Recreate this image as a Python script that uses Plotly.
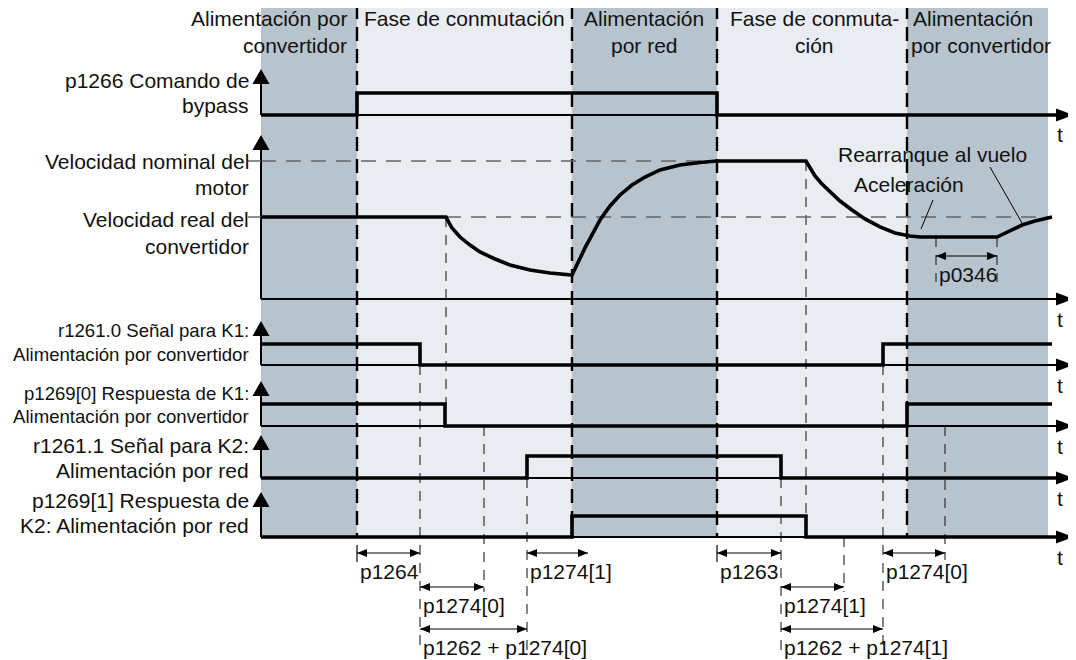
import plotly.graph_objects as go

# The page body has an 8px margin: the figure is drawn 8px smaller and shifted.
OFF = 8
REF_W, REF_H = 1076, 660
W, H = REF_W - OFF, REF_H - OFF
X0 = 261          # reference pixel of time origin (1 time unit = 1 px)
FONT = "Liberation Sans, Arial, Helvetica, sans-serif"
TXT = "#111111"
DARK = "#b7c4ce"
LIGHT = "#e9edf1"

# ---------------- data ----------------
phase_bounds = [0, 96, 311, 456, 646, 787]          # time units
phase_kind = ["dark", "light", "dark", "light", "dark"]

p1266_t = [0, 96, 456, 797]
p1266_v = [0, 1, 0, 0]
r1261_0_t = [0, 159, 622, 791]
r1261_0_v = [1, 0, 1, 1]
p1269_0_t = [0, 184, 646, 791]
p1269_0_v = [1, 0, 1, 1]
r1261_1_t = [0, 266, 520, 797]
r1261_1_v = [0, 1, 0, 0]
p1269_1_t = [0, 311, 545, 797]
p1269_1_v = [0, 1, 0, 0]

speed_t = [0, 185, 191, 199, 209, 219, 234, 249, 269, 289,
           311, 317, 324, 331, 339, 349, 359, 371, 384, 399,
           419, 439, 456, 545, 549, 554, 561, 569, 579, 591,
           604, 619, 634, 649, 659, 736, 749, 761, 774, 791]
speed_v = [59.4, 59.4, 51.4, 44.9, 39.1, 34.1, 29.0, 24.6, 21.0, 18.8,
           17.4, 26.8, 37.0, 46.4, 57.2, 67.4, 75.4, 82.6, 88.4, 93.5,
           97.1, 98.9, 100, 100, 94.9, 89.1, 83.3, 77.5, 71.0, 64.5,
           58.0, 52.2, 47.8, 45.7, 44.9, 44.9, 49.3, 53.6, 56.5, 59.4]
speed_nominal = 100.0
speed_actual = 59.4
nominal_ref_t = [0, 545]
actual_ref_t = [185, 791]

# time markers (time, top px, bottom px)
markers = [(159, 365, 652), (185, 217, 404), (223, 426, 592), (266, 478, 652),
           (520, 478, 652), (545, 161, 516), (583, 537, 592), (622, 365, 652),
           (684, 426, 560), (675, 237, 282), (736, 237, 282)]

# dimension arrows (t0, t1, y px, label)
dims = [(96, 159, 553, "p1264"), (266, 327, 553, "p1274[1]"),
        (456, 520, 553, "p1263"), (622, 684, 553, "p1274[0]"),
        (159, 223, 587, "p1274[0]"), (520, 583, 587, "p1274[1]"),
        (159, 266, 629, "p1262 + p1274[0]"), (520, 622, 629, "p1262 + p1274[1]"),
        (675, 736, 256, "p0346")]

# ---------------- layout helpers (reference pixels -> paper) ----------------
def fx(px):
    return (px - OFF) / W

def fy(py):
    return 1 - (py - OFF) / H

# rows: (axis name, baseline px, px per unit, arrow tip px)
rows = [
    ("y", 115, 22, 69),
    ("y2", 299, 1.38, 135),
    ("y3", 365, 21, 321),
    ("y4", 426, 22, 381),
    ("y5", 478, 22, 435),
    ("y6", 537, 21, 492),
]

fig = go.Figure()
layout_axes = {}
for name, base, s, tip in rows:
    key = "yaxis" if name == "y" else "yaxis" + name[1:]
    b = base - OFF
    ax = dict(range=[(b - H) / s, b / s], domain=[0, 1], visible=False, fixedrange=True)
    if name != "y":
        ax["overlaying"] = "y"
    layout_axes[key] = ax

shapes = []
annotations = []

# backgrounds
for i, kind in enumerate(phase_kind):
    shapes.append(dict(type="rect", xref="x", yref="paper",
                       x0=phase_bounds[i], x1=phase_bounds[i + 1],
                       y0=fy(536), y1=fy(5), line=dict(width=0),
                       fillcolor=DARK if kind == "dark" else LIGHT, layer="below"))

# phase boundary dashed lines
for b in phase_bounds[1:5]:
    shapes.append(dict(type="line", xref="x", yref="paper", x0=b, x1=b,
                       y0=fy(5), y1=fy(537),
                       line=dict(color="#000", width=2.4, dash="14px,8px"), layer="below"))

# time marker thin dashed lines
for t, y0, y1 in markers:
    shapes.append(dict(type="line", xref="x", yref="paper", x0=t, x1=t,
                       y0=fy(y0), y1=fy(y1),
                       line=dict(color="#222", width=1.1, dash="10px,8px"), layer="below"))

# axes with arrows
for name, base, s, tip in rows:
    shapes.append(dict(type="line", xref="paper", yref="paper", x0=fx(X0), x1=fx(X0),
                       y0=fy(base), y1=fy(tip + 12), line=dict(color="#000", width=2)))
    shapes.append(dict(type="path", xref="paper", yref="paper",
                       path=f"M {fx(X0)} {fy(tip)} L {fx(X0-8.5)} {fy(tip+15)} L {fx(X0+8.5)} {fy(tip+15)} Z",
                       fillcolor="#000", line=dict(width=0)))
    shapes.append(dict(type="line", xref="paper", yref="paper", x0=fx(X0), x1=fx(1060),
                       y0=fy(base), y1=fy(base), line=dict(color="#000", width=1.8)))
    shapes.append(dict(type="path", xref="paper", yref="paper",
                       path=f"M {fx(1073)} {fy(base)} L {fx(1056)} {fy(base-6.5)} L {fx(1056)} {fy(base+6.5)} Z",
                       fillcolor="#000", line=dict(width=0)))
    annotations.append(dict(text="t", x=fx(1060), y=fy(base + 20), xref="paper", yref="paper",
                            xanchor="center", yanchor="middle", showarrow=False,
                            font=dict(size=21, family=FONT, color=TXT)))

# speed reference ticks left of axis
for lvl in (speed_nominal, speed_actual):
    shapes.append(dict(type="line", xref="x", yref="y2", x0=-13, x1=0, y0=lvl, y1=lvl,
                       line=dict(color="#666", width=1.5)))

def arrowhead(xtip, y, direction):
    L, h = 10, 4
    xb = xtip - direction * L
    return dict(type="path", xref="paper", yref="paper",
                path=f"M {fx(xtip)} {fy(y)} L {fx(xb)} {fy(y-h)} L {fx(xb)} {fy(y+h)} Z",
                fillcolor="#000", line=dict(width=0))

for t0, t1, y, lab in dims:
    p0, p1 = t0 + X0, t1 + X0
    shapes.append(dict(type="line", xref="paper", yref="paper", x0=fx(p0), x1=fx(p1),
                       y0=fy(y), y1=fy(y), line=dict(color="#000", width=1.2)))
    shapes.append(arrowhead(p0, y, -1))
    shapes.append(arrowhead(p1, y, 1))
    if t0 in phase_bounds:
        shapes.append(dict(type="line", xref="paper", yref="paper", x0=fx(p0), x1=fx(p0),
                           y0=fy(y - 8), y1=fy(y + 9), line=dict(color="#000", width=1.2)))
    annotations.append(dict(text=lab, x=fx(p0 + 1), y=fy(y + 18), xref="paper", yref="paper",
                            xanchor="left", yanchor="middle", showarrow=False,
                            font=dict(size=21, family=FONT, color=TXT)))

# pointer lines for "Aceleración" / "Rearranque al vuelo"
shapes.append(dict(type="line", xref="paper", yref="paper", x0=fx(933), x1=fx(921),
                   y0=fy(200), y1=fy(229), line=dict(color="#000", width=1)))
shapes.append(dict(type="line", xref="paper", yref="paper", x0=fx(990), x1=fx(1022),
                   y0=fy(167), y1=fy(223), line=dict(color="#000", width=1)))

def label(text, xpx, ypx, size=21, anchor="right"):
    annotations.append(dict(text=text, x=fx(xpx), y=fy(ypx), xref="paper", yref="paper",
                            xanchor=anchor, yanchor="middle", showarrow=False, align=anchor,
                            font=dict(size=size, family=FONT, color=TXT)))

# top phase labels
label("Alimentación por", 349, 18, anchor="right")
label("convertidor", 349, 45, anchor="right")
label("Fase de conmutación", 362, 18, anchor="left")
label("Alimentación", 644, 18, anchor="center")
label("por red", 644, 45, anchor="center")
label("Fase de conmuta-", 814, 18, anchor="center")
label("ción", 814, 45, anchor="center")
label("Alimentación", 911, 18, anchor="left")
label("por convertidor", 909, 45, anchor="left")

# left labels
label("p1266 Comando de", 251, 80)
label("bypass", 251, 105)
label("Velocidad nominal del", 251, 162)
label("motor", 251, 188)
label("Velocidad real del", 251, 219)
label("convertidor", 251, 246)
label("r1261.0 Señal para K1:", 251, 330, size=18.6)
label("Alimentación por convertidor", 251, 354, size=18.6)
label("p1269[0] Respuesta de K1:", 251, 393, size=18.6)
label("Alimentación por convertidor", 251, 416, size=18.6)
label("r1261.1 Señal para K2:", 251, 445)
label("Alimentación por red", 251, 470)
label("p1269[1] Respuesta de", 251, 500)
label("K2: Alimentación por red", 251, 525)

label("Rearranque al vuelo", 836, 154, anchor="left")
label("Aceleración", 852, 184, anchor="left")

# ---------------- traces ----------------
fig.add_trace(go.Scatter(x=nominal_ref_t, y=[speed_nominal] * 2, yaxis="y2", mode="lines",
                         line=dict(color="#666", width=1.5, dash="15px,10px")))
fig.add_trace(go.Scatter(x=actual_ref_t, y=[speed_actual] * 2, yaxis="y2", mode="lines",
                         line=dict(color="#666", width=1.5, dash="15px,10px")))

sig = [(p1266_t, p1266_v, "y"), (r1261_0_t, r1261_0_v, "y3"), (p1269_0_t, p1269_0_v, "y4"),
       (r1261_1_t, r1261_1_v, "y5"), (p1269_1_t, p1269_1_v, "y6")]
for t, v, ax in sig:
    fig.add_trace(go.Scatter(x=t, y=v, yaxis=ax, mode="lines", line_shape="hv",
                             line=dict(color="#000", width=3.6)))

fig.add_trace(go.Scatter(x=speed_t, y=speed_v, yaxis="y2", mode="lines",
                         line=dict(color="#000", width=3.6)))

fig.update_layout(
    width=W, height=H, autosize=False,
    margin=dict(l=0, r=0, t=0, b=0, pad=0),
    paper_bgcolor="white", plot_bgcolor="rgba(0,0,0,0)",
    showlegend=False, hovermode=False,
    xaxis=dict(range=[-(X0 - OFF), W - (X0 - OFF)], domain=[0, 1], visible=False, fixedrange=True),
    shapes=shapes, annotations=annotations,
    **layout_axes,
)

fig.write_html("out.html")
